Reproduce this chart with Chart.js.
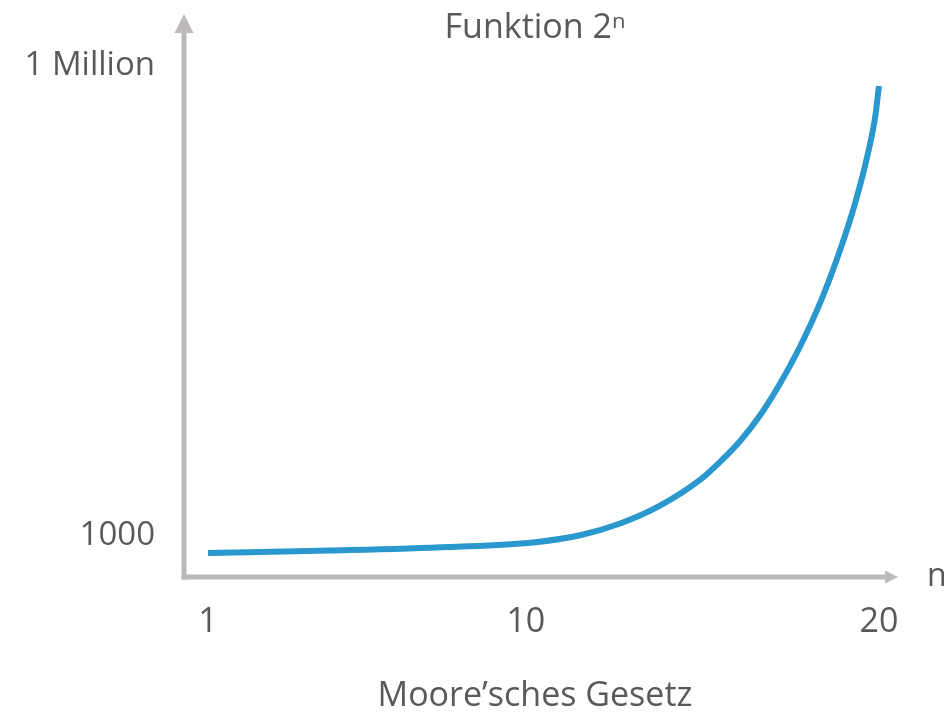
<!DOCTYPE html>
<html>
<head>
<meta charset="utf-8">
<script src="https://cdn.jsdelivr.net/npm/chart.js@4"></script>
<style>
  html, body { margin: 0; padding: 0; background: #ffffff; }
  #wrap { width: 949px; height: 717px; }
</style>
</head>
<body>
<div id="wrap"><canvas id="chart" width="949" height="717"></canvas></div>
<script>
// Curve (n, height in thousands, 1000 = "1 Million")
const nValues = [1, 4.46, 7.86, 10.21, 11.54, 12.67, 13.8, 14.94, 15.5, 16.07, 16.64, 17.2, 17.77, 18.34, 18.9, 19.33, 19.67, 19.9, 20.0];
const heights = [43, 48, 55, 64, 78, 101, 136, 187, 222, 263, 314, 376, 449, 535, 638, 731, 822, 902, 960];

// Axis labels
const xTickValues = [1, 10, 20];
const yTickValues = [78, 1000];
const yTickLabels = ['1000', '1 Million'];

const AXIS_COLOR = '#bdb8ba';
const TEXT_COLOR = '#595959';
const LINE_COLOR = '#2a98cf';
const FONT = '"Open Sans", "Noto Sans", sans-serif';

/**
 * Draw the two axis lines with arrow heads and the "n" label
 */
const arrowAxes = {
    id: 'arrowAxes',
    beforeDatasetsDraw(chart) {
        const { ctx, chartArea } = chart;
        const x0 = chartArea.left;
        const y0 = chartArea.bottom + 2;
        ctx.save();
        ctx.strokeStyle = AXIS_COLOR;
        ctx.fillStyle = AXIS_COLOR;
        ctx.lineWidth = 5;
        ctx.lineCap = 'butt';

        // y axis
        ctx.beginPath();
        ctx.moveTo(x0, y0 + 2.5);
        ctx.lineTo(x0, 30);
        ctx.stroke();
        ctx.beginPath();
        ctx.moveTo(x0, 14);
        ctx.lineTo(x0 + 9.5, 33);
        ctx.lineTo(x0 - 9.5, 33);
        ctx.closePath();
        ctx.fill();

        // x axis
        ctx.beginPath();
        ctx.moveTo(x0 - 2.5, y0);
        ctx.lineTo(chartArea.right + 1, y0);
        ctx.stroke();
        ctx.beginPath();
        ctx.moveTo(chartArea.right + 12, y0);
        ctx.lineTo(chartArea.right - 1, y0 - 6.5);
        ctx.lineTo(chartArea.right - 1, y0 + 6.5);
        ctx.closePath();
        ctx.fill();

        // variable name
        ctx.fillStyle = TEXT_COLOR;
        ctx.font = '32px ' + FONT;
        ctx.textAlign = 'left';
        ctx.textBaseline = 'middle';
        ctx.fillText('n', chartArea.right + 41, y0);
        ctx.restore();
    }
};

const ctx = document.getElementById('chart').getContext('2d');

window.mooreChart = new Chart(ctx, {
    type: 'line',
    data: {
        datasets: [{
            label: '2^n',
            data: nValues.map((n, i) => ({ x: n, y: heights[i] })),
            borderColor: LINE_COLOR,
            borderWidth: 6,
            pointRadius: 0,
            fill: false,
            cubicInterpolationMode: 'monotone'
        }]
    },
    options: {
        responsive: false,
        animation: false,
        devicePixelRatio: 1,
        layout: {
            padding: { left: 0, right: 63, top: 0, bottom: 0 }
        },
        plugins: {
            legend: { display: false },
            tooltip: { enabled: false },
            title: {
                display: true,
                text: 'Funktion 2\u207F',
                fullSize: false,
                color: TEXT_COLOR,
                font: { family: FONT, size: 34, weight: 'normal', lineHeight: 1.2 },
                padding: { top: 6, bottom: 0 }
            }
        },
        scales: {
            x: {
                type: 'linear',
                min: 0.32,
                max: 20.2,
                afterBuildTicks: (scale) => {
                    scale.ticks = xTickValues.map(v => ({ value: v }));
                },
                afterFit: (scale) => { scale.height = 142; },
                grid: { display: false, drawTicks: false },
                border: { display: false },
                ticks: {
                    color: TEXT_COLOR,
                    font: { family: FONT, size: 34, lineHeight: 1.2 },
                    padding: 27,
                    maxRotation: 0,
                    callback: (v) => String(v)
                },
                title: {
                    display: true,
                    text: 'Moore\u2019sches Gesetz',
                    color: TEXT_COLOR,
                    font: { family: FONT, size: 34, lineHeight: 1.2 },
                    padding: 0
                }
            },
            y: {
                type: 'linear',
                min: 0,
                max: 1033,
                afterBuildTicks: (scale) => {
                    scale.ticks = yTickValues.map(v => ({ value: v }));
                },
                afterFit: (scale) => { scale.width = 184; },
                grid: { display: false, drawTicks: false },
                border: { display: false },
                ticks: {
                    color: TEXT_COLOR,
                    font: { family: FONT, size: 33, lineHeight: 1.2 },
                    padding: 29,
                    callback: (v) => {
                        const i = yTickValues.indexOf(v);
                        return i >= 0 ? yTickLabels[i] : '';
                    }
                }
            }
        }
    },
    plugins: [arrowAxes]
});
</script>
</body>
</html>
